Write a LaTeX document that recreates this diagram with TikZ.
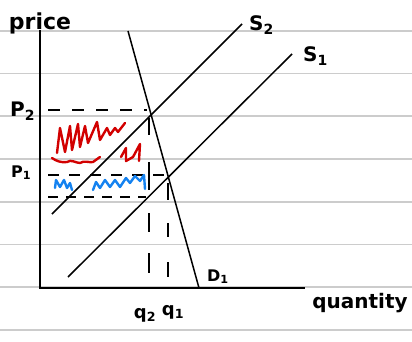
\documentclass[tikz,border=0pt]{standalone}
\usepackage{fontspec}
\setmainfont{DejaVu Sans}
\begin{document}
\begin{tikzpicture}[x=1pt,y=-1pt,
  rule/.style={draw=black!20,line width=1.6pt},
  axisline/.style={draw=black,line width=2.2pt},
  curve/.style={draw=black,line width=1.5pt},
  guide/.style={draw=black,line width=2pt,dash pattern=on 12pt off 12pt},
  vguide/.style={draw=black,line width=2.2pt},
  redmark/.style={draw={rgb,255:red,210;green,0;blue,0},line width=2.4pt,line join=round,line cap=round},
  bluemark/.style={draw={rgb,255:red,20;green,130;blue,240},line width=2.4pt,line join=round,line cap=round},
  lbl/.style={font=\bfseries\fontsize{20}{22}\selectfont,inner sep=0pt},
  sublbl/.style={font=\bfseries\fontsize{16}{18}\selectfont,inner sep=0pt},
  qlbl/.style={font=\bfseries\fontsize{18}{20}\selectfont,inner sep=0pt}]
\fill[white] (0,0) rectangle (412,342);
\useasboundingbox (0,0) rectangle (412,342);
% ruled paper
\foreach \yy in {31,73.5,116,159,202,244.5,287,330}
  \draw[rule] (0,\yy) -- (412,\yy);
% axes
\coordinate (O) at (40,288);
\coordinate (Ytop) at (40,30);
\coordinate (Xend) at (305,288);
\draw[axisline] (Ytop) -- (O) -- (Xend);
% curves
\coordinate (Dtop) at (128,31);
\coordinate (Dbot) at (199,288);
\coordinate (S2a) at (52,214);
\coordinate (S2b) at (242,24);
\coordinate (S1a) at (68,277);
\coordinate (S1b) at (292,54);
\coordinate (E2) at (151.5,115);
\coordinate (E1) at (168,177);
\draw[curve] (Dtop) -- (Dbot);
\draw[curve] (S2a) -- (S2b);
\draw[curve] (S1a) -- (S1b);
% guides
\coordinate (P2l) at (48,110);
\coordinate (P2r) at (147,110);
\coordinate (P1l) at (48,175);
\coordinate (P1r) at (168,175);
\coordinate (Pbl) at (48,197);
\coordinate (Pbr) at (146,197);
\coordinate (Q2t) at (149,118);
\coordinate (Q2b) at (149,273);
\coordinate (Q1t) at (168,183);
\coordinate (Q1b) at (168,277);
\draw[guide] (P2l) -- (P2r);
\draw[guide,dash pattern=on 11pt off 10pt] (P1l) -- (P1r);
\draw[guide,dash pattern=on 10pt off 8pt] (Pbl) -- (Pbr);
\draw[vguide,dash pattern=on 17pt off 27pt on 28pt off 23pt on 19pt off 21pt on 20pt off 50pt] (Q2t) -- (Q2b);
\draw[vguide,dash pattern=on 17pt off 23pt on 14pt off 25pt on 15pt off 50pt] (Q1t) -- (Q1b);
% red scribble (consumer burden)
\draw[redmark] (57,153) -- (60,128) -- (65,152) -- (70,126) -- (72,150) -- (78,124) -- (80,147) -- (85,126) -- (88,143) -- (97,122) -- (100,140) -- (107,128) -- (110,135) -- (115,128) -- (118,132) -- (125,123);
\draw[redmark] (52,158) .. controls (56,161) and (62,163) .. (67,162) .. controls (71,159) and (76,163) .. (80,163) .. controls (84,160) and (90,163) .. (93,162) -- (100,157);
\draw[redmark] (121,157) -- (126,148) -- (126,161) -- (133,157) -- (140,144) -- (139,161);
% blue scribble (producer burden)
\draw[bluemark] (55,188) -- (56,180) -- (60,187) -- (64,180) -- (67,188) -- (70,183) -- (72,190);
\draw[bluemark] (93,190) -- (96,182) -- (100,188) -- (105,180) -- (110,187) -- (115,180) -- (120,187) -- (126,178) -- (130,183) -- (135,176) -- (140,181) -- (144,175) -- (145,189);
% labels
\node[lbl,anchor=base,font=\bfseries\fontsize{22}{24}\selectfont] (price) at (40,30) {price};
\node[lbl,anchor=base] (quantity) at (360,308) {quantity};
\node[lbl,anchor=base west] (P2) at (10,117) {P\textsubscript{2}};
\node[sublbl,anchor=base west] (P1) at (11,177) {P\textsubscript{1}};
\node[qlbl,anchor=base] (q2) at (145,318) {q\textsubscript{2}};
\node[qlbl,anchor=base] (q1) at (173,315) {q\textsubscript{1}};
\node[lbl,anchor=base west] (S2) at (249,31) {S\textsubscript{2}};
\node[lbl,anchor=base west] (S1) at (303,62) {S\textsubscript{1}};
\node[sublbl,anchor=base west] (D1) at (207,281) {D\textsubscript{1}};
\end{tikzpicture}
\end{document}
